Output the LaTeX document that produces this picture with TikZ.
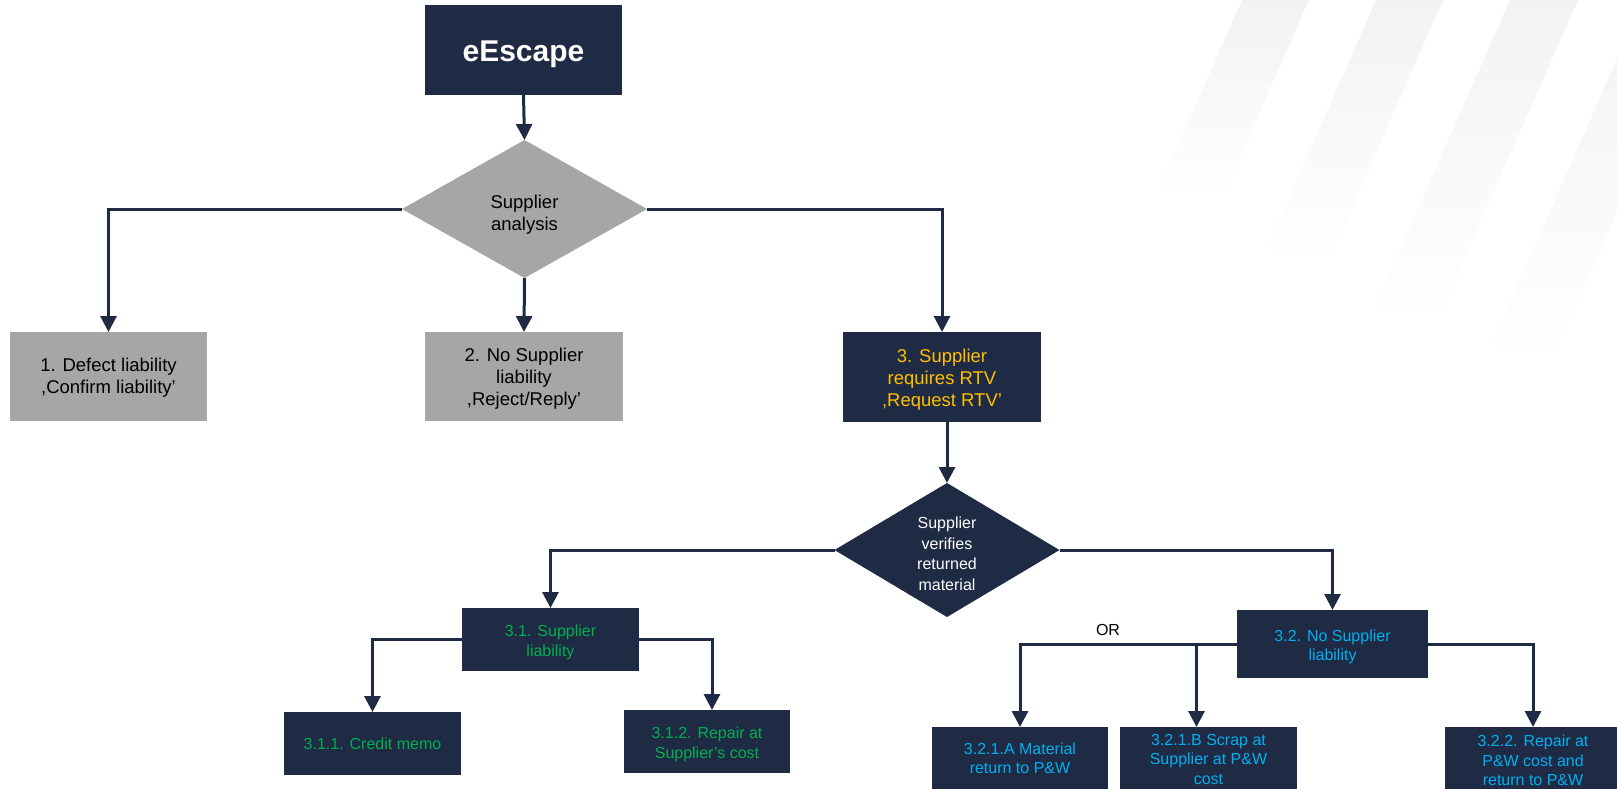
\documentclass[tikz,border=0pt]{standalone}
\usepackage{fontspec}
\setmainfont{Liberation Sans}
\usetikzlibrary{shapes.geometric,arrows.meta}
\definecolor{navy}{HTML}{1F2A44}
\definecolor{boxgray}{HTML}{A6A6A6}
\definecolor{txtyellow}{HTML}{FFC000}
\definecolor{txtgreen}{HTML}{00B050}
\definecolor{txtblue}{HTML}{00B0F0}
\newcommand\mytext[2][3pt]{\raisebox{-#1}[\height][\depth]{\begin{tabular}{@{}c@{}}#2\end{tabular}}}
\begin{document}
\begin{tikzpicture}[x=1pt,y=-1pt,
  box/.style={rectangle, inner sep=0pt, outer sep=0pt},
  navybox/.style={box, fill=navy},
  graybox/.style={box, fill=boxgray, text=black},
  bigtxt/.style={font=\fontsize{18.5}{22}\selectfont},
  smalltxt/.style={font=\fontsize{16}{19.5}\selectfont},
  conn/.style={draw=navy, line width=3pt, -{Triangle[length=16pt,width=16pt]}},
  stripe/.style={top color=black!5, bottom color=white, draw=none}]
\useasboundingbox (0,0) rectangle (1617,788);
\clip (0,0) rectangle (1617,788);
\fill[white] (0,0) rectangle (1617,788);
% background stripes
\shade[stripe] (1242,0) -- (1309,0) -- (1221,200) -- (1154,200) -- cycle;
\shade[stripe] (1376,0) -- (1443,0) -- (1329,260) -- (1262,260) -- cycle;
\shade[stripe] (1510,0) -- (1578,0) -- (1437,320) -- (1369,320) -- cycle;
\shade[stripe] (1643,0) -- (1710,0) -- (1552,360) -- (1485,360) -- cycle;
% nodes
\node[navybox, minimum width=197pt, minimum height=90pt, text=white,
      font=\bfseries\fontsize{30}{36}\selectfont] (top) at (523.5,50) {\mytext[4pt]{eEscape}};
\node[diamond, aspect=1.77, fill=boxgray, inner sep=0pt, outer sep=0pt,
      minimum width=245pt, minimum height=138pt, bigtxt] (d1) at (524.5,209)
      {\mytext[6pt]{Supplier\\analysis}};
\node[graybox, minimum width=197pt, minimum height=89pt, bigtxt] (b1) at (108.5,376.5)
      {\mytext[2pt]{1. Defect liability\\,Confirm liability'}};
\node[graybox, minimum width=198pt, minimum height=89pt, bigtxt] (b2) at (524,376.5)
      {\mytext[3pt]{2. No Supplier\\liability\\,Reject/Reply'}};
\node[navybox, minimum width=198pt, minimum height=90pt, text=txtyellow, bigtxt] (b3) at (942,377)
      {\mytext[3pt]{3. Supplier\\requires RTV\\,Request RTV’}};
\node[diamond, aspect=1.67, fill=navy, text=white, inner sep=0pt, outer sep=0pt,
      minimum width=225pt, minimum height=134pt, font=\fontsize{16}{20.5}\selectfont] (d2) at (947,550)
      {\mytext[5.5pt]{Supplier\\verifies\\returned\\material}};
\node[navybox, minimum width=177pt, minimum height=63pt, text=txtgreen, smalltxt] (b31) at (550.5,639.5)
      {\mytext[3pt]{3.1. Supplier\\liability}};
\node[navybox, minimum width=191pt, minimum height=68pt, text=txtblue, smalltxt] (b32) at (1332.5,644)
      {\mytext[3pt]{3.2. No Supplier\\liability}};
\node[navybox, minimum width=177pt, minimum height=63pt, text=txtgreen, smalltxt] (b311) at (372.5,743.5)
      {\mytext[2pt]{3.1.1. Credit memo}};
\node[navybox, minimum width=166pt, minimum height=63pt, text=txtgreen, smalltxt] (b312) at (707,741.5)
      {\mytext[3pt]{3.1.2. Repair at\\Supplier’s cost}};
\node[navybox, minimum width=176pt, minimum height=66pt, text=txtblue, smalltxt] (b321a) at (1020,760)
      {\mytext[0pt]{3.2.1.A Material\\return to P\&W}};
\node[navybox, minimum width=177pt, minimum height=66pt, text=txtblue, smalltxt] (b321b) at (1208.5,760)
      {\mytext[1pt]{3.2.1.B Scrap at\\Supplier at P\&W\\cost}};
\node[navybox, minimum width=176pt, minimum height=66pt, text=txtblue, smalltxt] (b322) at (1533,760)
      {\mytext[2.5pt]{3.2.2. Repair at\\P\&W cost and\\return to P\&W}};
\node[smalltxt, text=black, inner sep=0pt] (or) at (1108,630) {OR};
% connectors
\draw[conn] (top.south) -- (d1.north);
\draw[conn] (d1.west) -| (b1.north);
\draw[conn] (d1.south) -- (b2.north);
\draw[conn] (d1.east) -| (b3.north);
\draw[conn] (b3.south -| d2.north) -- (d2.north);
\draw[conn] (d2.west) -| (b31.north);
\draw[conn] (d2.east) -| (b32.north);
\draw[conn] (b31.west) -| (b311.north);
\draw[conn] (b31.east) -| ([xshift=5pt]b312.north);
\draw[conn] (b32.west) -| (b321a.north);
\draw[conn] (b32.west) -| ([xshift=-12pt]b321b.north);
\draw[conn] (b32.east) -| (b322.north);
\end{tikzpicture}
\end{document}
